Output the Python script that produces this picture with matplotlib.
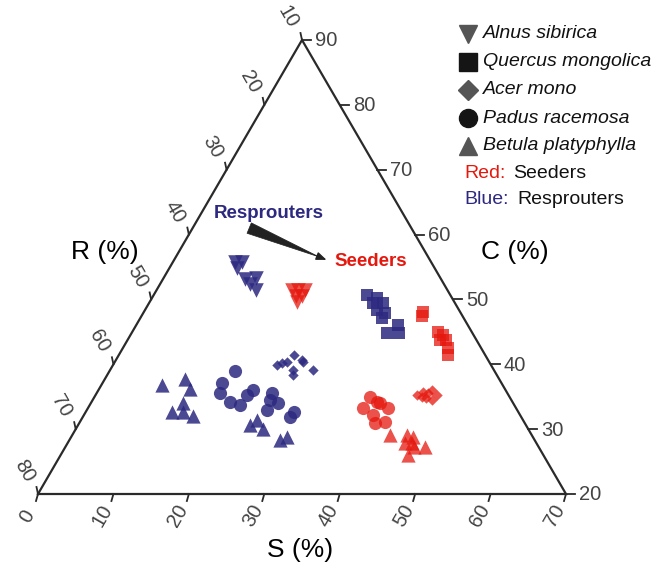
import numpy as np
import matplotlib
matplotlib.use('Agg')
import matplotlib.pyplot as plt

plt.rcParams['font.family'] = ['Liberation Sans', 'DejaVu Sans']

# ---- ternary axis ranges (S bottom, C right, R left) ----
S_MIN, C_MIN, R_MIN, SPAN = 0, 20, 10, 70
s_ticks = [0, 10, 20, 30, 40, 50, 60, 70]
c_ticks = [20, 30, 40, 50, 60, 70, 80, 90]
r_ticks = [10, 20, 30, 40, 50, 60, 70, 80]

# ---- data: S (%) and C (%) ; R = 100 - S - C ----
alnus_res_S = [8.2, 9.2, 9.0, 10.9, 12.2, 11.9, 13.1]
alnus_res_C = [55.8, 55.8, 54.8, 53.2, 53.3, 52.4, 51.5]
alnus_seed_S = [17.9, 18.7, 19.6, 18.9, 19.7, 19.6]
alnus_seed_C = [51.5, 51.5, 51.5, 50.5, 50.5, 49.6]

quercus_res_S = [28.3, 29.8, 29.6, 31.0, 30.8, 32.0, 32.1, 33.9, 34.7, 35.5]
quercus_res_C = [50.7, 50.2, 49.5, 49.5, 48.4, 47.9, 47.1, 44.8, 46.1, 44.8]
quercus_seed_S = [37.0, 37.1, 40.5, 41.4, 41.4, 42.3, 43.1, 43.6]
quercus_seed_C = [48.1, 47.5, 45.0, 44.5, 43.7, 43.7, 42.5, 41.4]

acer_res_S = [21.8, 22.8, 23.3, 24.9, 26.9, 24.2, 24.6, 22.3, 24.6]
acer_res_C = [39.9, 40.4, 41.4, 40.4, 39.1, 39.1, 38.3, 40.2, 40.7]
acer_seed_S = [42.6, 43.2, 43.9, 44.3, 45.2, 44.1, 43.4, 45.0]
acer_seed_C = [35.3, 35.7, 35.6, 36.0, 35.3, 34.8, 35.0, 34.5]

padus_res_S = [16.6, 15.8, 16.3, 18.3, 19.9, 20.0, 20.5, 23.2, 23.5, 24.8, 23.9, 27.5, 27.7]
padus_res_C = [39.0, 37.1, 35.6, 34.2, 33.7, 35.3, 36.0, 35.6, 34.5, 34.0, 33.0, 31.9, 32.6]
padus_seed_S = [36.5, 37.8, 36.4, 38.3, 39.7, 39.2, 40.4, 38.3]
padus_seed_C = [35.0, 34.2, 33.3, 32.2, 33.3, 30.9, 31.1, 34.0]

betula_res_S = [8.1, 10.6, 12.0, 12.2, 11.4, 12.9, 14.5, 22.8, 23.4, 24.8, 27.9, 28.6]
betula_res_C = [36.8, 37.7, 36.2, 34.0, 32.6, 32.6, 32.0, 30.6, 31.4, 30.0, 28.3, 28.8]
betula_seed_S = [42.1, 44.4, 45.3, 45.6, 46.3, 47.7, 46.0, 44.7]
betula_seed_C = [29.1, 29.1, 28.8, 27.9, 27.2, 27.2, 26.0, 27.9]

species = ['Alnus sibirica', 'Quercus mongolica', 'Acer mono', 'Padus racemosa', 'Betula platyphylla']

BLUE = '#2d2980'
RED = '#e5180e'
H = np.sqrt(3) / 2


def tern(S, C):
    S = np.asarray(S, float)
    C = np.asarray(C, float)
    s = (S - S_MIN) / SPAN
    c = (C - C_MIN) / SPAN
    return s + 0.5 * c, H * c


fig = plt.figure(figsize=(6.65, 5.69), dpi=100)
ax = fig.add_axes([0, 0, 1, 1])
PX = 528.0            # pixels per unit along x
PY = 454.0 / H        # pixels per unit along y
ax.set_xlim(-38 / PX, (665 - 38) / PX)
ax.set_ylim((494 - 569) / PY, 494 / PY)
ax.axis('off')

# triangle frame
tri = np.array([tern(0, 20), tern(70, 20), tern(0, 90), tern(0, 20)])
ax.plot(tri[:, 0], tri[:, 1], color='#2a2a2a', lw=1.6, solid_joinstyle='miter', zorder=2)

lab_fs = 14.5
# bottom axis (S)
for v in s_ticks:
    x, y = tern(v, C_MIN)
    ax.plot([x, x - 2 / PX], [y, y - 7 / PY], color='#2a2a2a', lw=1.3)
    ax.text(x - 11 / PX, y - 22 / PY, str(v), rotation=60, ha='center', va='center',
            fontsize=lab_fs, color='#444444')
# right axis (C)
for v in c_ticks:
    x, y = tern(100 - R_MIN - v, v)
    ax.plot([x, x + 9 / PX], [y, y], color='#2a2a2a', lw=1.3)
    ax.text(x + 13 / PX, y - 1 / PY, str(v), ha='left', va='center',
            fontsize=lab_fs, color='#444444')
# left axis (R)
for v in r_ticks:
    x, y = tern(0, 100 - v)
    ax.plot([x, x - 1.5 / PX], [y, y + 7 / PY], color='#2a2a2a', lw=1.3)
    ax.text(x - 14 / PX, y + 23 / PY, str(v), rotation=-60, ha='center', va='center',
            fontsize=lab_fs, color='#444444')

# axis titles
ax.text((105 - 38) / PX, (494 - 252) / PY, 'R (%)', fontsize=19, ha='center', va='center')
ax.text((515 - 38) / PX, (494 - 252) / PY, 'C (%)', fontsize=19, ha='center', va='center')
ax.text((300 - 38) / PX, (494 - 550) / PY, 'S (%)', fontsize=19, ha='center', va='center')

# data
groups = [
    (alnus_res_S, alnus_res_C, alnus_seed_S, alnus_seed_C, 'v', 110),
    (quercus_res_S, quercus_res_C, quercus_seed_S, quercus_seed_C, 's', 72),
    (acer_res_S, acer_res_C, acer_seed_S, acer_seed_C, 'D', 28),
    (padus_res_S, padus_res_C, padus_seed_S, padus_seed_C, 'o', 90),
    (betula_res_S, betula_res_C, betula_seed_S, betula_seed_C, '^', 105),
]
for rs, rc, ss, sc, m, sz in groups:
    x, y = tern(rs, rc)
    ax.scatter(x, y, marker=m, s=sz, color=BLUE, alpha=0.85, linewidths=0, zorder=3)
    x, y = tern(ss, sc)
    ax.scatter(x, y, marker=m, s=sz, color=RED, alpha=0.75, linewidths=0, zorder=3)

# arrow annotation
start = tern(7.5, 61.0)
end = tern(20.2, 56.1)
mid = tern(19.0, 56.55)
ax.annotate('', xy=mid, xytext=start,
            arrowprops=dict(arrowstyle='wedge,tail_width=0.45,shrink_factor=0.5',
                            fc='#222222', ec='#222222', lw=0.5, mutation_scale=18,
                            shrinkA=0, shrinkB=0))
ax.annotate('', xy=end, xytext=mid,
            arrowprops=dict(arrowstyle='-|>,head_length=0.5,head_width=0.2',
                            fc='#222222', ec='#222222', lw=1.0, mutation_scale=12,
                            shrinkA=0, shrinkB=0))
rx, ry = tern(9.0, 63.3)
ax.text(rx, ry, 'Resprouters', color=BLUE, fontsize=13.5, fontweight='bold',
        ha='center', va='center')
sx, sy = tern(26.2, 55.8)
ax.text(sx, sy, 'Seeders', color=RED, fontsize=13.5, fontweight='bold',
        ha='center', va='center')


# legend (figure-fraction coordinates)
def fx(px):
    return px / 665.0


def fy(py):
    return 1 - py / 569.0


leg_markers = ['v', 's', 'D', 'o', '^']
leg_colors = ['#555555', '#151515', '#555555', '#151515', '#555555']
leg_sizes = [13, 13, 10, 13, 13]
leg_y = [34, 62, 90, 118, 146]
for name, m, c, ms, yy in zip(species, leg_markers, leg_colors, leg_sizes, leg_y):
    fig.lines.append(plt.Line2D([fx(468)], [fy(yy)], marker=m, markersize=ms, color=c,
                                linestyle='none', transform=fig.transFigure))
    fig.text(fx(483), fy(yy), name, fontsize=14, style='italic', ha='left', va='center',
             color='#111111')
fig.text(fx(464), fy(174), 'Red:', fontsize=14, color=RED, ha='left', va='center')
fig.text(fx(513), fy(174), 'Seeders', fontsize=14, color='#111111', ha='left', va='center')
fig.text(fx(464), fy(199), 'Blue:', fontsize=14, color=BLUE, ha='left', va='center')
fig.text(fx(517), fy(199), 'Resprouters', fontsize=14, color='#111111', ha='left', va='center')

fig.savefig('out.png', dpi=100)
